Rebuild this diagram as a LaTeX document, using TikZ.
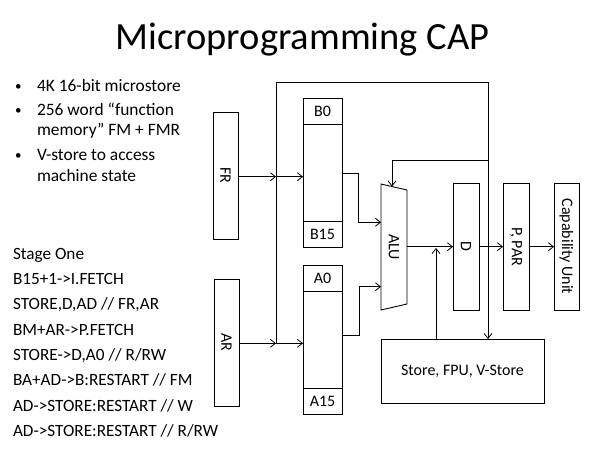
\documentclass[tikz,border=0pt]{standalone}
\usepackage{fontspec}
\setmainfont{Carlito}
\usetikzlibrary{arrows.meta,calc}
\begin{document}
\begin{tikzpicture}[x=1pt,y=-1pt,
  every node/.style={inner sep=0pt,outer sep=0pt},
  box/.style={draw,line width=0.9pt,rectangle},
  lbl/.style={font=\fontsize{16}{18}\selectfont},
  rlbl/.style={lbl,rotate=-90},
  txt/.style={font=\fontsize{17.2}{19}\selectfont,anchor=base west},
  btxt/.style={font=\fontsize{17.4}{20}\selectfont,anchor=base west},
  bul/.style={font=\fontsize{13}{14}\selectfont,anchor=base west},
  wire/.style={line width=0.8pt},
  arr/.style={wire,-{Straight Barb[length=5pt,width=8pt]}}]
\useasboundingbox (0,0) rectangle (593,450);
% title
\node[font=\fontsize{38.5}{42}\selectfont,anchor=base] (title) at (302.5,49) {Microprogramming CAP};
% bullets
\node[bul] (b1m) at (15,90) {•};
\node[btxt] (b1) at (37,91) {4K 16-bit microstore};
\node[bul] (b2m) at (15,114) {•};
\node[btxt] (b2) at (37,115) {256 word “function};
\node[btxt] (b2b) at (37,135.5) {memory” FM + FMR};
\node[bul] (b3m) at (15,159) {•};
\node[btxt] (b3) at (37,160) {V-store to access};
\node[btxt] (b3b) at (37,181.5) {machine state};
% stage lines
\node[txt] (s0) at (13,259.3) {Stage One};
\node[txt] (s1) at (13,284.6) {B15+1->I.FETCH};
\node[txt] (s2) at (13,309.9) {STORE,D,AD // FR,AR};
\node[txt] (s3) at (13,335.2) {BM+AR->P.FETCH};
\node[txt] (s4) at (13,360.5) {STORE->D,A0 // R/RW};
\node[txt] (s5) at (13,385.8) {BA+AD->B:RESTART // FM};
\node[txt] (s6) at (13,411.1) {AD->STORE:RESTART // W};
\node[txt] (s7) at (13,436.4) {AD->STORE:RESTART // R/RW};
% boxes
\node[box,minimum width=25,minimum height=127] (fr) at (225.5,175.5) {};
\node[rlbl] at (fr.center) {FR};
\node[box,minimum width=25,minimum height=127] (ar) at (226.5,342.5) {};
\node[rlbl] at (ar.center) {AR};
\node[box,minimum width=39,minimum height=149] (bb) at (322.5,172.5) {};
\draw[line width=0.9pt] (303,124.3) -- (342,124.3) (303,221) -- (342,221);
\node[lbl] at (322.5,111.5) {B0};
\node[lbl] at (322.5,234) {B15};
\node[box,minimum width=39,minimum height=149] (ab) at (322.5,339.5) {};
\draw[line width=0.9pt] (303,291.7) -- (342,291.7) (303,388.3) -- (342,388.3);
\node[lbl] at (322.5,278.5) {A0};
\node[lbl] at (322.5,401.5) {A15};
% ALU
\node[minimum width=26,minimum height=126] (alu) at (394,247) {};
\draw[line width=0.9pt] (381,184) -- (407,190) -- (407,304) -- (381,310) -- cycle;
\node[rlbl] at (394,247) {ALU};
\node[box,minimum width=26,minimum height=127] (d) at (466,246.5) {};
\node[rlbl] at (d.center) {D};
\node[box,minimum width=26,minimum height=127] (p) at (516,246.5) {};
\node[rlbl] at (p.center) {P, PAR};
\node[box,minimum width=25,minimum height=127] (cu) at (566.5,246.5) {};
\node[rlbl] at (cu.center) {Capability Unit};
\node[box,minimum width=163,minimum height=64] (st) at (462.5,371) {};
\node[lbl] at (st.center) {Store, FPU, V-Store};
% junctions
\coordinate (jf) at (276,176.7);
\coordinate (ja) at (276,343.3);
\coordinate (tl) at (276,82);
\coordinate (tr) at (488,82);
\coordinate (tb) at (488,160);
\coordinate (ta) at (392,160);
% connectors
\draw[arr] (fr.east |- jf) -- (jf);
\draw[arr] (jf) -- (bb.west |- jf);
\draw[arr] (ar.east |- ja) -- (ja);
\draw[arr] (ja) -- (ab.west |- ja);
\draw[wire] (ja) -- (tl) -- (tr) -- (tb);
\draw[arr] (tb) -- (st.north -| tb);
\draw[arr] (tb) -- (ta) -- (392,186.5);
\draw[arr] (bb.east |- 0,173.3) -- (358.5,173.3) -- (358.5,222.3) -- (alu.west |- 0,222.3);
\draw[arr] (ab.east |- 0,335) -- (359.5,335) -- (359.5,286.7) -- (alu.west |- 0,286.7);
\draw[arr] (alu.east |- 0,246.7) -- (d.west |- 0,246.7);
\draw[arr] (st.north -| 436,0) -- (436,248);
\draw[arr] (d.east |- 0,246.7) -- (p.west |- 0,246.7);
\draw[arr] (p.east |- 0,246.7) -- (cu.west |- 0,246.7);
\end{tikzpicture}
\end{document}
